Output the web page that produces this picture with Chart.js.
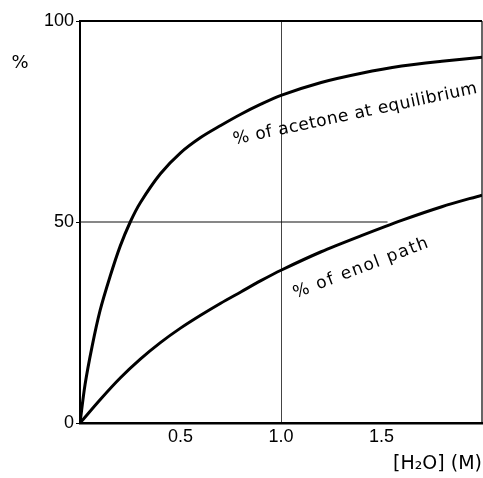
<!DOCTYPE html>
<html>
<head>
<meta charset="utf-8">
<script src="https://cdn.jsdelivr.net/npm/chart.js@4"></script>
<style>
  html, body { margin: 0; padding: 0; background: #fff; }
  #wrap { width: 483px; height: 478px; }
</style>
</head>
<body>
<div id="wrap"><canvas id="enolChart"></canvas></div>
<script>
// values
const waterConc  = [0, 0.025, 0.06, 0.1, 0.15, 0.2, 0.25, 0.3, 0.4, 0.5, 0.6, 0.7, 0.8, 0.9, 1.0, 1.2, 1.4, 1.6, 1.8, 2.0];
const acetonePct = [0, 9.5, 19, 28, 36.5, 44, 50, 54.8, 62, 67.2, 71, 74, 76.8, 79.3, 81.5, 84.7, 87, 88.8, 90, 91];
const enolConc   = [0, 0.1, 0.2, 0.3, 0.4, 0.5, 0.6, 0.7, 0.8, 0.9, 1.0, 1.2, 1.4, 1.6, 1.8, 2.0];
const enolPct    = [0, 5.8, 11.2, 15.9, 20, 23.6, 26.8, 29.8, 32.6, 35.4, 38, 42.6, 46.6, 50.4, 53.8, 56.7];
const halfLineX  = [0, 1.53];
const halfLineY  = [50, 50];
const xTicks = [0.5, 1.0, 1.5];
const yTicks = [0, 50, 100];

const toPts = (xs, ys) => xs.map((x, i) => ({ x: x, y: ys[i] }));

// curve labels, frame top/right, "%" axis label
const extras = {
    id: 'extras',
    afterDatasetsDraw(chart) {
        const { ctx, chartArea: a, scales: { x, y } } = chart;
        ctx.save();
        ctx.strokeStyle = '#000';
        ctx.lineWidth = 2;
        ctx.beginPath();
        ctx.moveTo(a.left, a.top);
        ctx.lineTo(a.right, a.top);
        ctx.stroke();
        ctx.lineWidth = 1.2;
        ctx.beginPath();
        ctx.moveTo(a.right, a.top);
        ctx.lineTo(a.right, a.bottom);
        ctx.stroke();

        ctx.fillStyle = '#000';
        ctx.font = '17px "DejaVu Sans"';
        ctx.letterSpacing = '0.5px';
        ctx.textAlign = 'center';
        ctx.textBaseline = 'middle';

        ctx.save();
        ctx.translate(x.getPixelForValue(1.37), y.getPixelForValue(76.8));
        ctx.rotate(-12 * Math.PI / 180);
        ctx.fillText('% of acetone at equilibrium', 0, 0);
        ctx.restore();

        ctx.letterSpacing = '1.5px';
        ctx.save();
        ctx.translate(x.getPixelForValue(1.4), y.getPixelForValue(38.5));
        ctx.rotate(-21 * Math.PI / 180);
        ctx.fillText('% of enol path', 0, 0);
        ctx.restore();

        ctx.letterSpacing = '0px';
        ctx.font = '18px "DejaVu Sans"';
        ctx.fillText('%', a.left - 60, y.getPixelForValue(89.5));
        ctx.restore();
    }
};

new Chart(document.getElementById('enolChart'), {
    type: 'scatter',
    data: {
        datasets: [
            {
                data: toPts(waterConc, acetonePct),
                showLine: true,
                borderColor: '#000',
                borderWidth: 3,
                pointRadius: 0,
                tension: 0.3
            },
            {
                data: toPts(enolConc, enolPct),
                showLine: true,
                borderColor: '#000',
                borderWidth: 3,
                pointRadius: 0,
                tension: 0.3
            },
            {
                data: toPts(halfLineX, halfLineY),
                showLine: true,
                borderColor: '#111',
                borderWidth: 1.2,
                pointRadius: 0
            }
        ]
    },
    options: {
        responsive: true,
        maintainAspectRatio: false,
        animation: false,
        layout: { padding: { top: 21, right: 1, left: 0, bottom: 0 } },
        plugins: {
            legend: { display: false },
            tooltip: { enabled: false }
        },
        scales: {
            x: {
                type: 'linear',
                min: 0,
                max: 2,
                afterBuildTicks: s => { s.ticks = xTicks.map(v => ({ value: v })); },
                afterFit: s => { s.height = 55; },
                border: { color: '#000', width: 2.5 },
                grid: {
                    drawTicks: false,
                    color: c => (c.tick && c.tick.value === 1) ? '#444' : 'rgba(0,0,0,0)',
                    lineWidth: 1
                },
                ticks: {
                    color: '#000',
                    padding: 3,
                    font: { family: 'Liberation Sans', size: 18 },
                    callback: v => v.toFixed(1)
                },
                title: {
                    display: true,
                    text: '[H\u2082O] (M)',
                    align: 'end',
                    color: '#000',
                    font: { family: 'DejaVu Sans', size: 19 },
                    padding: { top: 0, bottom: 3 }
                }
            },
            y: {
                min: 0,
                max: 100,
                afterBuildTicks: s => { s.ticks = yTicks.map(v => ({ value: v })); },
                afterFit: s => { s.width = 80; },
                border: { color: '#000', width: 2 },
                grid: {
                    drawOnChartArea: false,
                    color: '#000',
                    tickLength: 4
                },
                ticks: {
                    color: '#000',
                    padding: 2,
                    font: { family: 'Liberation Sans', size: 18 }
                }
            }
        }
    },
    plugins: [extras]
});
</script>
</body>
</html>
